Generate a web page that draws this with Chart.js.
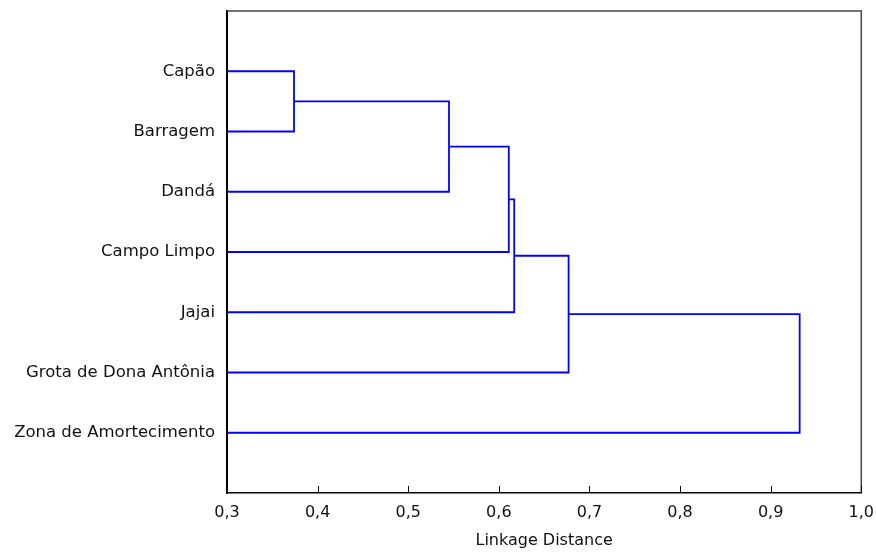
<!DOCTYPE html>
<html>
<head>
<meta charset="utf-8">
<script src="https://cdn.jsdelivr.net/npm/chart.js@4/dist/chart.umd.min.js"></script>
<style>
  html, body { margin: 0; padding: 0; background: #fff; }
  #wrap { width: 876px; height: 552px; }
</style>
</head>
<body>
<div id="wrap"><canvas id="dendro"></canvas></div>
<script>
// leaves, top to bottom
const leaves = ['Capão', 'Barragem', 'Dandá', 'Campo Limpo', 'Jajai', 'Grota de Dona Antônia', 'Zona de Amortecimento'];
// merges: node ids 0..6 are leaves, 7.. are merges in order
const mergeA = [0, 7, 8, 9, 10, 11];
const mergeB = [1, 2, 3, 4, 5, 6];
const mergeDist = [0.374, 0.545, 0.611, 0.617, 0.677, 0.932];
const xTicks = [0.3, 0.4, 0.5, 0.6, 0.7, 0.8, 0.9, 1.0];
const xMin = 0.3, xMax = 1.0;

const fontFamily = '"DejaVu Sans", sans-serif';

// node positions (x = distance, y = leaf slot)
let nodes = leaves.map((l, i) => ({ x: xMin, y: i + 1 }));
let datasets = [];
mergeDist.forEach((d, k) => {
    const a = nodes[mergeA[k]];
    const b = nodes[mergeB[k]];
    datasets.push({
        data: [{ x: a.x, y: a.y }, { x: d, y: a.y }, { x: d, y: b.y }, { x: b.x, y: b.y }],
        showLine: true,
        borderColor: '#0000ff',
        borderWidth: 1.8,
        pointRadius: 0,
        tension: 0,
        fill: false
    });
    nodes.push({ x: d, y: (a.y + b.y) / 2 });
});

// frame on top/right plus small inward ticks on the x axis
const framePlugin = {
    id: 'frame',
    afterDraw(chart) {
        const ctx = chart.ctx;
        const a = chart.chartArea;
        const xs = chart.scales.x;
        ctx.save();
        ctx.strokeStyle = '#444';
        ctx.lineWidth = 1.5;
        ctx.beginPath();
        ctx.moveTo(a.left, a.top);
        ctx.lineTo(a.right, a.top);
        ctx.lineTo(a.right, a.bottom);
        ctx.stroke();
        ctx.strokeStyle = '#000';
        ctx.lineWidth = 1;
        ctx.beginPath();
        xTicks.forEach(v => {
            const px = Math.round(xs.getPixelForValue(v)) + 0.5;
            ctx.moveTo(px, a.bottom);
            ctx.lineTo(px, a.bottom - 7);
        });
        ctx.stroke();
        ctx.restore();
    }
};

new Chart(document.getElementById('dendro'), {
    type: 'scatter',
    data: { datasets: datasets },
    options: {
        responsive: true,
        maintainAspectRatio: false,
        animation: false,
        layout: { padding: { top: 11, right: 6, left: 0, bottom: 0 } },
        plugins: {
            legend: { display: false },
            tooltip: { enabled: false }
        },
        scales: {
            x: {
                type: 'linear',
                min: xMin,
                max: xMax,
                afterBuildTicks: s => { s.ticks = xTicks.map(v => ({ value: v })); },
                afterFit: s => { s.height = 59; },
                grid: { display: false },
                border: { display: true, color: '#000', width: 1.5 },
                ticks: {
                    padding: 2,
                    color: '#111',
                    font: { family: fontFamily, size: 16 },
                    callback: v => v.toFixed(1).replace('.', ',')
                },
                title: {
                    display: true,
                    text: 'Linkage Distance',
                    color: '#111',
                    font: { family: fontFamily, size: 16 },
                    padding: { top: 0, bottom: 2 }
                }
            },
            y: {
                type: 'linear',
                min: 0,
                max: 8,
                reverse: true,
                afterBuildTicks: s => { s.ticks = leaves.map((l, i) => ({ value: i + 1 })); },
                afterFit: s => { s.width = 227; s.paddingTop = 0; s.paddingBottom = 0; },
                grid: { display: false },
                border: { display: true, color: '#000', width: 2 },
                ticks: {
                    padding: 4,
                    color: '#111',
                    font: { family: fontFamily, size: 16.5 },
                    callback: v => leaves[v - 1]
                }
            }
        }
    },
    plugins: [framePlugin]
});
</script>
</body>
</html>
